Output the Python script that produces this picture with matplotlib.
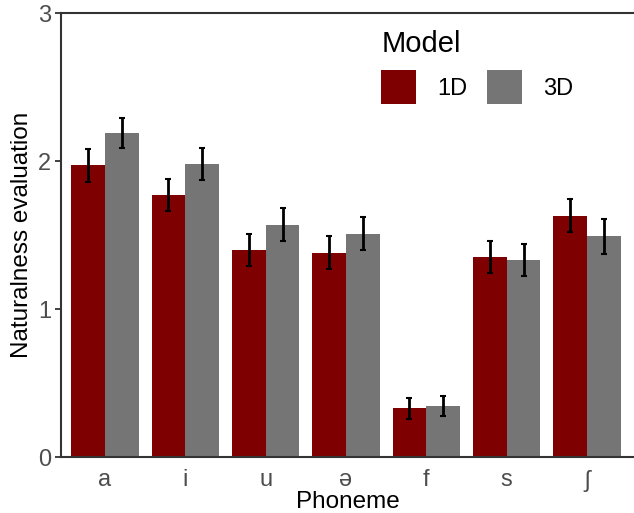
import numpy as np
import matplotlib.pyplot as plt

plt.rcParams['font.family'] = ['Liberation Sans', 'DejaVu Sans']

# Data
phonemes = ["a", "i", "u", "ə", "f", "s", "ʃ"]
mean_1d = [1.97, 1.77, 1.40, 1.38, 0.33, 1.35, 1.63]
err_1d = [0.11, 0.11, 0.11, 0.11, 0.07, 0.11, 0.11]
mean_3d = [2.19, 1.98, 1.57, 1.51, 0.345, 1.33, 1.49]
err_3d = [0.10, 0.11, 0.11, 0.11, 0.065, 0.11, 0.115]
models = ["1D", "3D"]
colors = ["#7f0000", "#757575"]

x = np.arange(1, len(phonemes) + 1)
w = 0.42

fig = plt.figure(figsize=(6.34, 5.13), dpi=100)
ax = fig.add_axes([61 / 634, 1 - 457 / 513, 1 - 61 / 634, (457 - 13) / 513])

for i, (vals, errs) in enumerate([(mean_1d, err_1d), (mean_3d, err_3d)]):
    pos = x + (i - 0.5) * w
    ax.bar(pos, vals, width=w, color=colors[i], label=models[i], zorder=2)
    ax.errorbar(pos, vals, yerr=errs, fmt="none", ecolor="black",
                elinewidth=2, capsize=2, capthick=1.5, zorder=3)

ax.set_xlim(0.452, 7.585)
ax.set_ylim(0, 3)
ax.set_yticks([0, 1, 2, 3])
ax.set_xticks(x)
ax.set_xticklabels(phonemes)
ax.tick_params(axis="x", length=0, pad=9, labelsize=17, labelcolor="#4d4d4d")
ax.tick_params(axis="y", length=4, width=1.3, color="#333333", pad=3,
               labelsize=17, labelcolor="#4d4d4d")

for side in ["left", "top", "bottom"]:
    ax.spines[side].set_color("#333333")
    ax.spines[side].set_linewidth(1.5)
ax.spines["right"].set_visible(False)

ax.set_xlabel("Phoneme", fontsize=17.5, labelpad=0)
ax.set_ylabel("Naturalness evaluation", fontsize=17.5, labelpad=4)

leg = ax.legend(title="Model", ncol=2, frameon=False, fontsize=17,
                title_fontsize=21, handlelength=1.48, handleheight=1.82,
                columnspacing=0.85, handletextpad=0.88, alignment="left",
                loc="upper left", bbox_to_anchor=(360 / 634, 1 - 9 / 513),
                bbox_transform=fig.transFigure)

fig.savefig("out.png", dpi=100)
